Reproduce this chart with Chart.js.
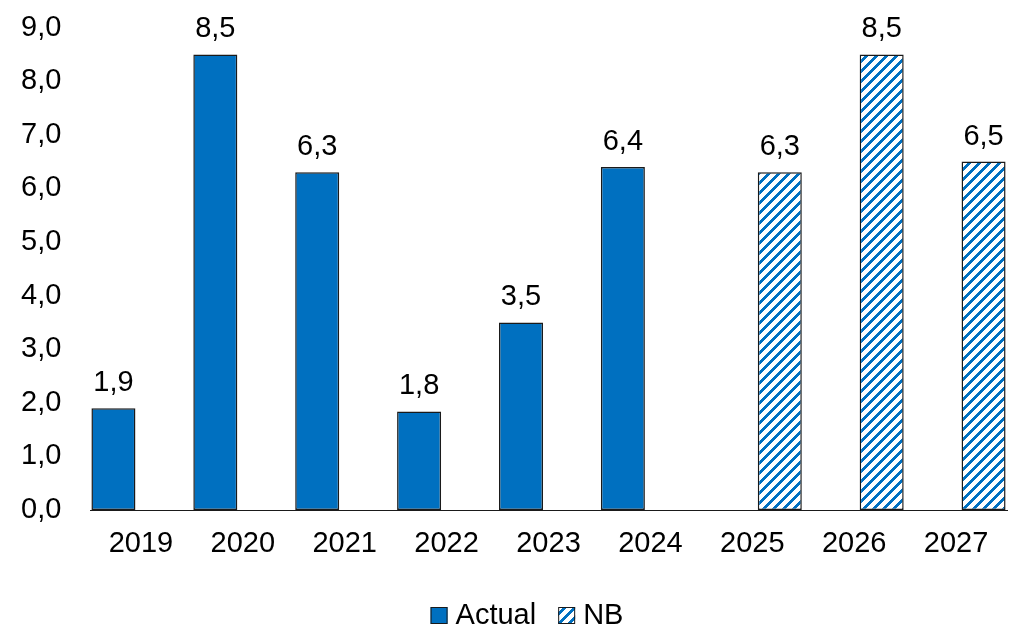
<!DOCTYPE html>
<html><head><meta charset="utf-8">
<script src="https://cdn.jsdelivr.net/npm/chart.js@4.4.1/dist/chart.umd.min.js"></script>
<style>html,body{margin:0;padding:0;background:#fff;overflow:hidden}</style>
</head><body>
<canvas id="c" width="1009" height="628"></canvas>
<script>
const categories = ['2019','2020','2021','2022','2023','2024','2025','2026','2027'];
const actualValues = [1.9, 8.5, 6.3, 1.84, 3.5, 6.4, null, null, null];
const nbValues = [null, null, null, null, null, null, 6.3, 8.5, 6.5];
const seriesNames = ['Actual', 'NB'];
const yMin = 0, yMax = 9, yStep = 1;

const BLUE = '#0070C0';
const EDGE = '#1a1a1a';
const FONT = "'Liberation Sans', Arial, sans-serif";
const FS = 29;

const canvas = document.getElementById('c');
const ctx = canvas.getContext('2d');

function makeStripes() {
  const n = 10;
  const t = document.createElement('canvas');
  t.width = n; t.height = n;
  const g = t.getContext('2d');
  const img = g.createImageData(n, n);
  for (let y = 0; y < n; y++) for (let x = 0; x < n; x++) {
    const i = (y * n + x) * 4;
    const blue = ((x + y) % n) < 4;
    img.data[i] = blue ? 0 : 255;
    img.data[i+1] = blue ? 112 : 255;
    img.data[i+2] = blue ? 192 : 255;
    img.data[i+3] = 255;
  }
  g.putImageData(img, 0, 0);
  return ctx.createPattern(t, 'repeat');
}
const stripes = makeStripes();

const fmt = v => v.toFixed(1).replace('.', ',');

const valueLabels = {
  id: 'valueLabels',
  afterDatasetsDraw(chart) {
    const c = chart.ctx;
    c.save();
    c.font = FS + 'px ' + FONT;
    c.fillStyle = '#000';
    c.textAlign = 'center';
    c.textBaseline = 'alphabetic';
    chart.data.datasets.forEach((ds, di) => {
      chart.getDatasetMeta(di).data.forEach((el, i) => {
        const v = ds.data[i];
        if (v === null || v === undefined) return;
        c.fillText(fmt(v), el.x, el.y - 17);
      });
    });
    c.restore();
  }
};

const customLegend = {
  id: 'customLegend',
  afterDraw(chart) {
    const c = chart.ctx;
    c.save();
    c.font = FS + 'px ' + FONT;
    c.textBaseline = 'alphabetic';
    c.textAlign = 'left';
    const box = 17, gapText = 8, gapItem = 22;
    const widths = chart.data.datasets.map(ds => c.measureText(ds.label).width);
    let total = 0;
    widths.forEach((w, i) => { total += box + gapText + w + (i ? gapItem : 0); });
    let x = 527 - total / 2;
    const boxTop = 607, baseline = 624;
    chart.data.datasets.forEach((ds, i) => {
      if (i) x += gapItem;
      c.fillStyle = ds.backgroundColor;
      c.fillRect(x, boxTop, box, box);
      c.strokeStyle = EDGE; c.lineWidth = 1;
      c.strokeRect(x + 0.5, boxTop + 0.5, box - 1, box - 1);
      c.fillStyle = '#000';
      c.fillText(ds.label, x + box + gapText, baseline);
      x += box + gapText + widths[i];
    });
    c.restore();
  }
};

new Chart(ctx, {
  type: 'bar',
  data: {
    labels: categories,
    datasets: [
      { label: seriesNames[0], data: actualValues, backgroundColor: BLUE, borderColor: EDGE, borderWidth: 1.5, borderSkipped: false },
      { label: seriesNames[1], data: nbValues, backgroundColor: stripes, borderColor: EDGE, borderWidth: 1.5, borderSkipped: false }
    ]
  },
  options: {
    responsive: false,
    animation: false,
    devicePixelRatio: 1,
    categoryPercentage: 1.08,
    barPercentage: 0.8,
    layout: { padding: { top: 27.6, right: 2, left: 21, bottom: 0 } },
    plugins: { legend: { display: false }, tooltip: { enabled: false } },
    scales: {
      x: {
        grid: { display: false, drawTicks: false },
        border: { display: true, color: EDGE, width: 1 },
        ticks: { color: '#000', font: { family: FONT, size: FS }, padding: 17, maxRotation: 0 },
        afterFit(scale) { scale.height = 118; }
      },
      y: {
        min: yMin, max: yMax,
        grid: { display: false, drawTicks: false },
        border: { display: false },
        ticks: { stepSize: yStep, color: '#000', font: { family: FONT, size: FS }, padding: 10, crossAlign: 'far', callback: v => fmt(v) },
        afterFit(scale) { scale.width = 69; }
      }
    }
  },
  plugins: [valueLabels, customLegend]
});
</script>
</body></html>
